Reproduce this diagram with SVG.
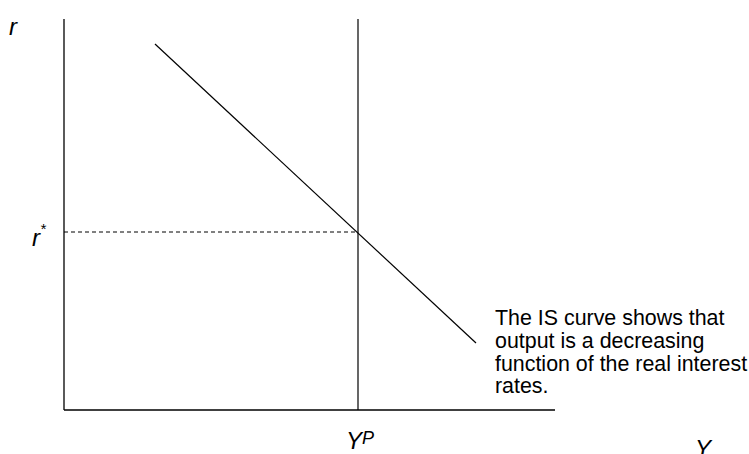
<svg xmlns="http://www.w3.org/2000/svg" width="749" height="454" viewBox="0 0 749 454">
<style>
.ax{stroke:#000;stroke-width:1.3;fill:none}
.ln{stroke:#000;stroke-width:1.2;fill:none}
.ds{stroke:#000;stroke-width:1;stroke-dasharray:4,3;fill:none}
.lb{font-family:"Liberation Sans",Arial,sans-serif;font-style:italic;font-size:24px;fill:#000}
.tx{font-family:"Liberation Sans",Arial,sans-serif;font-size:21.4px;fill:#000}
</style>
<rect width="749" height="454" fill="#fff"/>
<g id="axes">
<line class="ax" x1="64" y1="19" x2="64" y2="410"/>
<line class="ax" x1="64" y1="410" x2="555" y2="410"/>
</g>
<g id="connectors">
<line id="yp-line" class="ln" x1="358" y1="19" x2="358" y2="410"/>
<line id="is-curve" class="ln" x1="155" y1="44" x2="476" y2="343"/>
<line id="r-star-line" class="ds" x1="64" y1="232" x2="358" y2="232"/>
</g>
<g id="label-r"><text class="lb" x="9" y="35">r</text></g>
<g id="label-rstar"><text class="lb" x="32" y="246">r<tspan font-size="15" dy="-12">*</tspan></text></g>
<g id="label-yp"><text class="lb" x="346" y="449">Y<tspan font-size="18" dy="-5">P</tspan></text></g>
<g id="label-y"><text class="lb" x="695" y="457">Y</text></g>
<g id="note">
<text class="tx" x="495" y="325">The IS curve shows that</text>
<text class="tx" x="495" y="348">output is a decreasing</text>
<text class="tx" x="495" y="371">function of the real interest</text>
<text class="tx" x="495" y="393">rates.</text>
</g>
</svg>
